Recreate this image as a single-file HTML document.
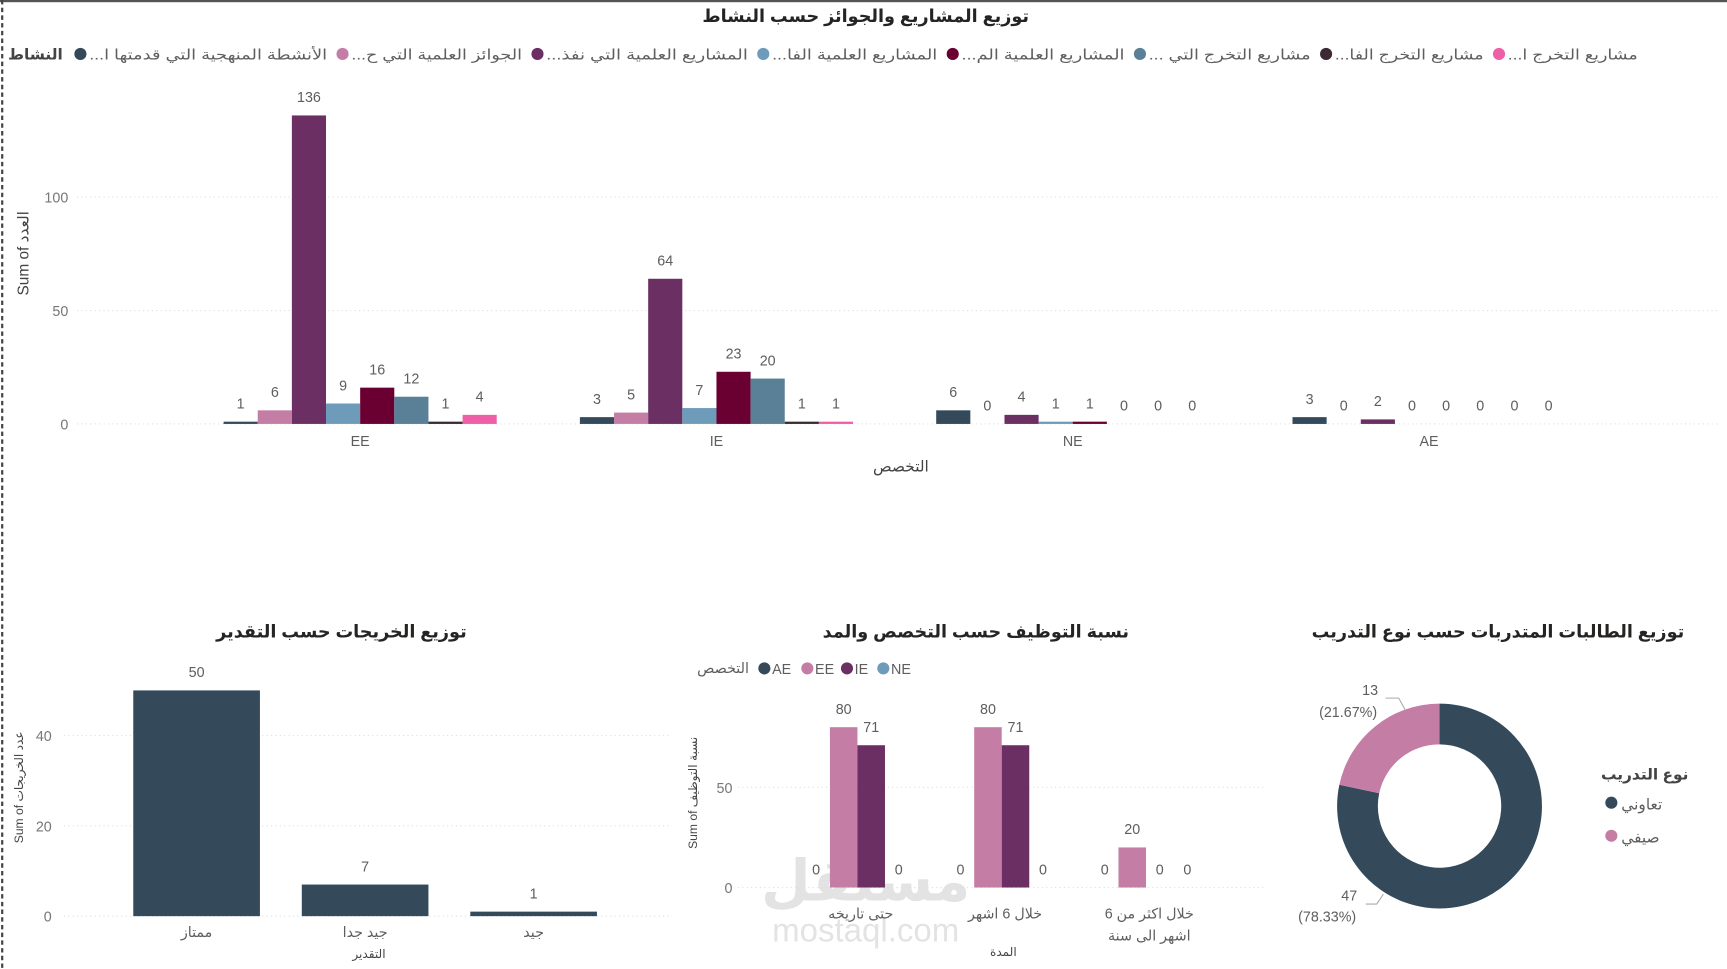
<!DOCTYPE html>
<html><head><meta charset="utf-8">
<style>
html,body{margin:0;padding:0;background:#fff;overflow:hidden}
svg{display:block;font-family:"Liberation Sans","DejaVu Sans",sans-serif}
.t{font-weight:bold;fill:#252423;font-size:16px}
.lab{fill:#605e5c;font-size:13px}
.tick{fill:#777;font-size:13px}
.grid{stroke:#ddd;stroke-dasharray:1,3;stroke-width:1}
</style></head><body>
<svg id="s" width="1727" height="969" viewBox="0 0 1568 880" preserveAspectRatio="none">
<rect x="0" y="0" width="1568" height="2" fill="#555"/>
<line x1="2" y1="0" x2="2" y2="880" stroke="#444" stroke-dasharray="4,3" stroke-width="2"/>
<text x="786" y="20" text-anchor="middle" class="t">توزيع المشاريع والجوائز حسب النشاط</text>
<text x="786" y="818" text-anchor="middle" font-size="52" font-weight="bold" fill="#d8d8d8" opacity="0.7">مستقل</text>
<text x="786" y="855" text-anchor="middle" font-size="30" fill="#d8d8d8" opacity="0.7">mostaql.com</text>
<g id="g"></g>
</svg>
<script>
// Top chart data
const topCats=["EE","IE","NE","AE"];
const topSeries=["...الأنشطة المنهجية التي قدمتها ا","...الجوائز العلمية التي ح","...المشاريع العلمية التي نفذ","...المشاريع العلمية الفا","...المشاريع العلمية الم","... مشاريع التخرج التي","...مشاريع التخرج الفا","...مشاريع التخرج ا"];
const topColors=["#344a5a","#c47ea6","#6b2f63","#6f9bbb","#6a0032","#5a8098","#3b2a33","#ef5fa7"];
const topValues=[[1,6,136,9,16,12,1,4],[3,5,64,7,23,20,1,1],[6,0,4,1,1,0,0,0],[3,0,2,0,0,0,0,0]];
const topTicks=[0,50,100];
// Grades chart
const gradeCats=["ممتاز","جيد جدا","جيد"];
const gradeValues=[50,7,1];
const gradeTicks=[0,20,40];
// Employment chart
const empCats=[["حتى تاريخه"],["خلال 6 اشهر"],["خلال اكثر من 6","اشهر الى سنة"]];
const empSeries=["AE","EE","IE","NE"];
const empColors=["#344a5a","#c47ea6","#6b2f63","#6f9bbb"];
const empValues=[[0,80,71,0],[0,80,71,0],[0,20,0,0]];
const empTicks=[0,50];
// Donut
const donutLabels=["تعاوني","صيفي"];
const donutValues=[47,13];
const donutColors=["#344a5a","#c47ea6"];

const NS="http://www.w3.org/2000/svg";
const g=document.getElementById('g');
function el(tag,attrs,txt){const e=document.createElementNS(NS,tag);for(const k in attrs)e.setAttribute(k,attrs[k]);if(txt!==undefined)e.textContent=txt;g.appendChild(e);return e;}

// ---- Top chart
const tY=v=>385-v*2.06;
const tX=(ci,si)=>203+ci*323.5+si*31;
topTicks.forEach(t=>{
  const l=el('line',{x1:70,x2:1560,y1:tY(t),y2:tY(t),class:'grid'});
  
  const tx=el('text',{x:62,y:tY(t)+5,'text-anchor':'end',class:'tick'},t);
  
});
topCats.forEach((c,ci)=>{
  topValues[ci].forEach((v,si)=>{
    const h=v*2.06;
    const r=el('rect',{x:tX(ci,si),y:tY(v),width:31,height:h,fill:topColors[si]});
    
    const t=el('text',{x:tX(ci,si)+15.5,y:tY(v)-12,'text-anchor':'middle',class:'lab'},v);
    
  });
  const cl=el('text',{x:203+ci*323.5+124,y:405,'text-anchor':'middle',class:'lab'},c);
  
});
let xt=el('text',{x:818,y:428,'text-anchor':'middle',class:'lab',style:'font-size:14px;fill:#444'},'التخصص');

let yt=el('text',{x:0,y:0,'text-anchor':'middle',class:'lab',style:'font-size:14px;fill:#444',transform:'translate(26,230) rotate(-90)'},'Sum of العدد');

// legend
let lt=el('text',{x:57,y:54,'text-anchor':'end',style:'font-size:14px;font-weight:bold;fill:#444'},'النشاط');

const legX=[73,311,488,693,865,1035,1204,1361,1501];
topSeries.forEach((s,i)=>{
  const d=el('circle',{cx:legX[i],cy:49,r:5.5,fill:topColors[i]});
  
  const t=el('text',{x:legX[i]+8,y:54,class:'lab',textLength:(legX[i+1]-legX[i]-22),lengthAdjust:'spacingAndGlyphs'},s);
  
});

// ---- Grades chart
let t1=el('text',{x:310,y:579,'text-anchor':'middle',class:'t'},'توزيع الخريجات حسب التقدير');

const gY=v=>832-v*4.1;
gradeTicks.forEach(t=>{
  const l=el('line',{x1:58,x2:610,y1:gY(t),y2:gY(t),class:'grid'});
  
  const tx=el('text',{x:47,y:gY(t)+5,'text-anchor':'end',class:'tick'},t);
  
});
gradeCats.forEach((c,i)=>{
  const x=121+i*153;const v=gradeValues[i];
  const r=el('rect',{x:x,y:gY(v),width:115,height:v*4.1,fill:'#344a5a'});
  
  const t=el('text',{x:x+57.5,y:gY(v)-12,'text-anchor':'middle',class:'lab'},v);
  
  const cl=el('text',{x:x+57.5,y:851,'text-anchor':'middle',class:'lab'},c);
  
});
xt=el('text',{x:335,y:870,'text-anchor':'middle',style:'font-size:11px;fill:#444'},'التقدير');

yt=el('text',{x:0,y:0,'text-anchor':'middle',style:'font-size:11px;fill:#444',transform:'translate(21,715) rotate(-90)'},'Sum of عدد الخريجات');


// ---- Employment chart
t1=el('text',{x:886,y:579,'text-anchor':'middle',class:'t'},'نسبة التوظيف حسب التخصص والمد');

lt=el('text',{x:680,y:611,'text-anchor':'end',class:'lab'},'التخصص');

const eLegX=[694,733,769,802];
empSeries.forEach((s,i)=>{
  const d=el('circle',{cx:eLegX[i],cy:607,r:5.5,fill:empColors[i]});
  
  const t=el('text',{x:eLegX[i]+7,y:612,class:'lab'},s);
  
});
const eY=v=>806-v*1.82;
empTicks.forEach(t=>{
  const l=el('line',{x1:670,x2:1150,y1:eY(t),y2:eY(t),class:'grid'});
  
  const tx=el('text',{x:665,y:eY(t)+5,'text-anchor':'end',class:'tick'},t);
  
});
empCats.forEach((c,ci)=>{
  const cx=778.5+ci*131;
  empValues[ci].forEach((v,si)=>{
    const x=cx-50+si*25;
    const r=el('rect',{x:x,y:eY(v),width:25,height:v*1.82,fill:empColors[si]});
    
    const t=el('text',{x:x+12.5,y:eY(v)-12,'text-anchor':'middle',class:'lab'},v);
    
  });
  c.forEach((line,li)=>{
    const cl=el('text',{x:cx+3,y:834+li*20,'text-anchor':'middle',class:'lab'},line);
    
  });
});
xt=el('text',{x:911,y:868,'text-anchor':'middle',style:'font-size:11px;fill:#444'},'المدة');

yt=el('text',{x:0,y:0,'text-anchor':'middle',style:'font-size:11px;fill:#444',transform:'translate(633,720) rotate(-90)'},'Sum of نسبة التوظيف');


// ---- Donut
t1=el('text',{x:1360,y:579,'text-anchor':'middle',class:'t'},'توزيع الطالبات المتدربات حسب نوع التدريب');

const cx=1307,cy=732,R=93,r0=56;
const tot=donutValues.reduce((a,b)=>a+b,0);
let a0=0;
donutValues.forEach((v,i)=>{
  const a1=a0+v/tot*Math.PI*2;
  const p=(a,rr)=>[cx+rr*Math.sin(a),cy-rr*Math.cos(a)];
  const [x1,y1]=p(a0,R),[x2,y2]=p(a1,R),[x3,y3]=p(a1,r0),[x4,y4]=p(a0,r0);
  const lg=(a1-a0)>Math.PI?1:0;
  const path=el('path',{d:`M${x1},${y1}A${R},${R} 0 ${lg} 1 ${x2},${y2}L${x3},${y3}A${r0},${r0} 0 ${lg} 0 ${x4},${y4}Z`,fill:donutColors[i]});
  
  a0=a1;
});
const pct=donutValues.map(v=>(v/tot*100).toFixed(2)+'%');
let dl=el('text',{x:1244,y:631,'text-anchor':'middle',class:'lab'},donutValues[1]);

dl=el('text',{x:1224,y:651,'text-anchor':'middle',class:'lab'},'('+pct[1]+')');

dl=el('text',{x:1225,y:818,'text-anchor':'middle',class:'lab'},donutValues[0]);

dl=el('text',{x:1205,y:837,'text-anchor':'middle',class:'lab'},'('+pct[0]+')');

let ll=el('polyline',{points:'1258,634 1270,634 1276,645',fill:'none',stroke:'#aaa'});

ll=el('polyline',{points:'1240,821 1250,821 1256,812',fill:'none',stroke:'#aaa'});

lt=el('text',{x:1533,y:708,'text-anchor':'end',style:'font-size:14px;font-weight:bold;fill:#444'},'نوع التدريب');

donutLabels.forEach((s,i)=>{
  const d=el('circle',{cx:1463,cy:729+i*30,r:5.5,fill:donutColors[i]});
  
  const t=el('text',{x:1472,y:735+i*30,class:'lab',style:'font-size:14px'},s);
  
});
</script>
</body></html>
